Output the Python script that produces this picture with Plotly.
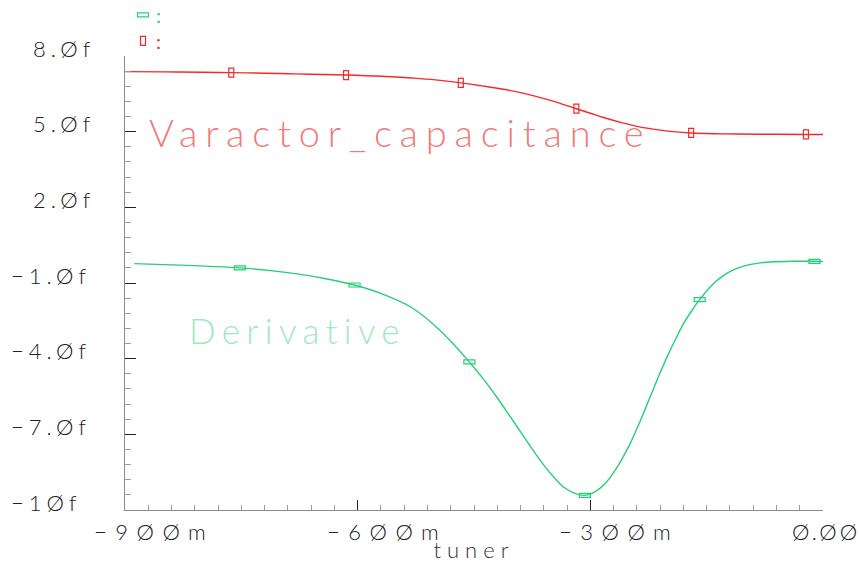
import plotly.graph_objects as go

# Varactor capacitance swept against the tuner voltage (F, shown in fF)
cap_x = [-0.900, -0.850, -0.800, -0.763, -0.720, -0.690, -0.660, -0.615,
         -0.570, -0.530, -0.500, -0.467, -0.440, -0.412, -0.390, -0.369,
         -0.345, -0.318, -0.300, -0.283, -0.260, -0.240, -0.210, -0.190,
         -0.170, -0.140, -0.111, -0.060, -0.022, 0.000]
cap_y = [7.380, 7.370, 7.355, 7.340, 7.318, 7.298, 7.276, 7.245,
         7.195, 7.125, 7.055, 6.935, 6.815, 6.680, 6.550, 6.390,
         6.180, 5.910, 5.730, 5.560, 5.360, 5.210, 5.060, 4.990,
         4.950, 4.920, 4.905, 4.895, 4.890, 4.890]

# Derivative of the capacitance with respect to the tuner voltage
der_x = [-0.888, -0.850, -0.820, -0.790, -0.752, -0.715, -0.678, -0.641,
         -0.604, -0.567, -0.530, -0.493, -0.456, -0.438, -0.420, -0.405,
         -0.390, -0.375, -0.360, -0.347, -0.335, -0.321, -0.307, -0.294,
         -0.280, -0.265, -0.250, -0.240, -0.230, -0.220, -0.210, -0.200,
         -0.190, -0.180, -0.170, -0.159, -0.145, -0.130, -0.115, -0.100,
         -0.085, -0.068, -0.040, -0.011, 0.000]
der_y = [-0.23, -0.27, -0.30, -0.34, -0.40, -0.50, -0.64, -0.83,
         -1.08, -1.45, -1.98, -2.90, -4.13, -4.80, -5.55, -6.22,
         -6.90, -7.58, -8.22, -8.70, -9.08, -9.33, -9.42, -9.28,
         -8.92, -8.28, -7.45, -6.78, -6.05, -5.30, -4.56, -3.86,
         -3.22, -2.62, -2.13, -1.66, -1.14, -0.74, -0.47, -0.31,
         -0.22, -0.17, -0.14, -0.14, -0.15]

# Sample markers placed along each waveform
cap_mark_x = [-0.763, -0.615, -0.467, -0.318, -0.170, -0.022]
cap_mark_y = [7.340, 7.245, 6.935, 5.910, 4.950, 4.890]
der_mark_x = [-0.752, -0.604, -0.456, -0.307, -0.159, -0.011]
der_mark_y = [-0.40, -1.08, -4.13, -9.42, -1.66, -0.14]

# Axis ticks and their labels
x_ticks = [-0.9, -0.6, -0.3, 0.0]
x_labels = ["−9ØØm", "−6ØØm", "−3ØØm", "Ø.ØØ"]
y_ticks = [8, 5, 2, -1, -4, -7, -10]
y_labels = ["8.Øf", "5.Øf", "2.Øf", "−1.Øf", "−4.Øf", "−7.Øf", "−1Øf"]

RED = "#f42a2a"
GREEN = "#25cf78"
INK = "#222222"
FONT = "Lato"


def spaced(text, px):
    return f'<span style="letter-spacing:{px}px">{text}</span>'


def tfont(size, color):
    return dict(family=FONT, size=size, color=color, weight=300)


fig = go.Figure()
fig.add_trace(go.Scatter(x=cap_x, y=cap_y, mode="lines",
                         line=dict(color=RED, width=1.4, shape="spline", smoothing=1.0),
                         hoverinfo="skip", showlegend=False))
fig.add_trace(go.Scatter(x=der_x, y=der_y, mode="lines",
                         line=dict(color=GREEN, width=1.4, shape="spline", smoothing=1.0),
                         hoverinfo="skip", showlegend=False))

shapes = []


def rect_marker(xa, ya, w, h, color, xref="x", yref="y"):
    return dict(type="rect", xref=xref, yref=yref, xsizemode="pixel", ysizemode="pixel",
                xanchor=xa, yanchor=ya, x0=-w / 2, x1=w / 2, y0=-h / 2, y1=h / 2,
                line=dict(color=color, width=1.2), fillcolor="rgba(0,0,0,0)")


for mx, my in zip(cap_mark_x, cap_mark_y):
    shapes.append(rect_marker(mx, my, 5, 9, RED))
for mx, my in zip(der_mark_x, der_mark_y):
    shapes.append(rect_marker(mx, my, 11, 4, GREEN))

# legend keys in the top-left corner
shapes.append(rect_marker(0.0258, 1.0904, 11, 4, GREEN, "paper", "paper"))
shapes.append(rect_marker(0.0258, 1.0331, 5, 9, RED, "paper", "paper"))

annotations = []
for v, lab in zip(x_ticks, x_labels):
    gap = 8.5 if lab.startswith("−") else 3
    annotations.append(dict(x=v, xref="x", y=0, yref="paper", xanchor="left", yanchor="top",
                            xshift=-33, yshift=-6, showarrow=False,
                            text=spaced(lab, gap), font=tfont(22, INK)))
for v, lab in zip(y_ticks, y_labels):
    annotations.append(dict(x=0, xref="paper", y=v, yref="y", xanchor="left", yanchor="middle",
                            xshift=-116 if lab.startswith("−") else -94, yshift=8,
                            showarrow=False,
                            text=spaced(lab, 5), font=tfont(22, INK)))

annotations += [
    dict(x=-0.871, y=5.0, xref="x", yref="y", xanchor="left", yanchor="middle", showarrow=False,
         text=spaced("Varactor_capacitance", 7.8),
         font=tfont(38, "rgba(242,95,95,0.85)")),
    dict(x=-0.820, y=-2.85, xref="x", yref="y", xanchor="left", yanchor="middle", showarrow=False,
         text=spaced("Derivative", 6.3),
         font=tfont(35, "rgba(140,228,185,0.85)")),
    dict(x=0.0258, y=1.0904, xref="paper", yref="paper", xanchor="left", yanchor="middle",
         xshift=11, showarrow=False, text=":", font=dict(family=FONT, size=20, color=GREEN)),
    dict(x=0.0258, y=1.0331, xref="paper", yref="paper", xanchor="left", yanchor="middle",
         xshift=11, showarrow=False, text=":", font=dict(family=FONT, size=20, color=RED)),
]

fig.update_layout(
    width=860, height=568,
    margin=dict(l=125, r=37, t=56, b=58),
    paper_bgcolor="white", plot_bgcolor="white",
    shapes=shapes, annotations=annotations,
    xaxis=dict(range=[-0.9, 0.0], tick0=-0.9, dtick=0.3, ticks="inside", ticklen=10,
               tickcolor=INK, tickwidth=1, showticklabels=False, showgrid=False,
               zeroline=False, showline=True, linecolor="#8c8c8c", linewidth=1,
               minor=dict(tick0=-0.9, dtick=0.03, ticks="inside", ticklen=5,
                          tickcolor="#9a9a9a", tickwidth=1, showgrid=False),
               title=dict(text=spaced("tuner", 6), standoff=32,
                          font=tfont(22, "#333"))),
    yaxis=dict(range=[-10, 8], tick0=-10, dtick=3, ticks="inside", ticklen=11,
               tickcolor=INK, tickwidth=1, showticklabels=False, showgrid=False,
               zeroline=False, showline=True, linecolor="#8c8c8c", linewidth=1,
               minor=dict(tick0=-10, dtick=0.6, ticks="inside", ticklen=6,
                          tickcolor="#9a9a9a", tickwidth=1, showgrid=False)),
)

fig.write_html("out.html")
